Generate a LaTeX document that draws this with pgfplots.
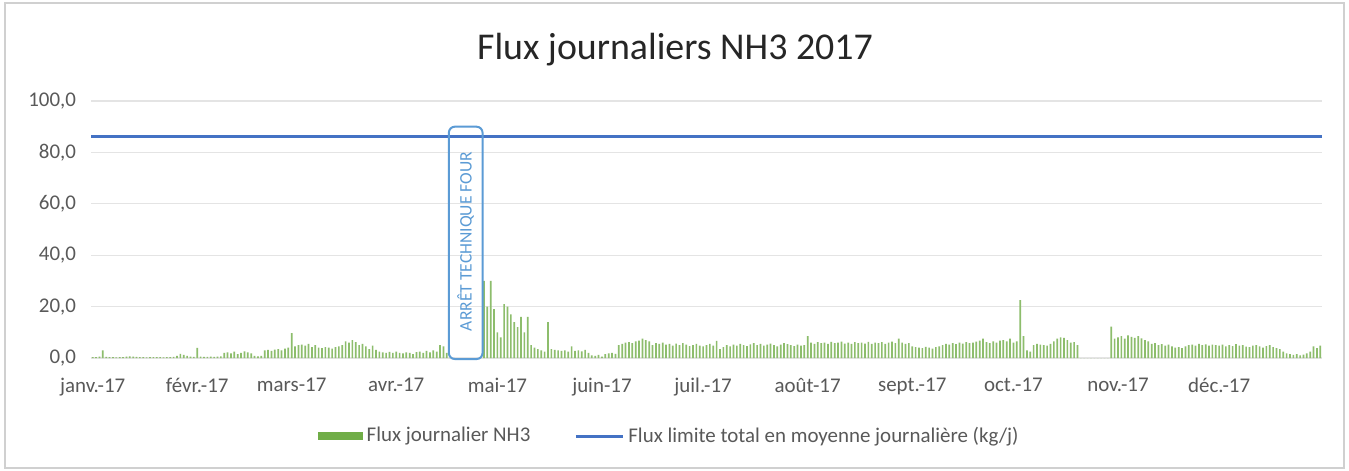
\documentclass[border=0pt]{standalone}
\usepackage{fontspec}
\setmainfont{Carlito}
\usepackage{pgfplots}
\usepackage{pgfplotstable}
\pgfplotsset{compat=1.18}
\definecolor{cbar}{HTML}{70AD47}
\definecolor{cline}{HTML}{4472C4}
\definecolor{cbox}{HTML}{5B9BD5}
\definecolor{ctxt}{HTML}{595959}
\definecolor{ctitle}{HTML}{262626}
\definecolor{cgrid}{HTML}{E4E4E4}
\definecolor{cborder}{HTML}{D0D0D0}

\pgfplotstableread[row sep=\\]{
v\\
0.3\\0.3\\0.5\\3.0\\0.4\\0.3\\0.3\\0.2\\0.3\\0.3\\0.5\\0.6\\0.5\\0.4\\0.3\\0.3\\0.2\\0.3\\0.3\\0.3\\0.3\\0.2\\0.3\\0.3\\0.4\\0.8\\1.6\\1.2\\0.8\\0.5\\0.4\\
3.9\\0.5\\0.4\\0.4\\0.5\\0.4\\0.5\\0.6\\2.0\\2.2\\1.8\\2.5\\1.5\\2.0\\2.6\\2.2\\1.8\\0.8\\0.6\\0.8\\3.0\\3.2\\2.8\\3.3\\3.5\\3.0\\3.6\\4.0\\
9.7\\4.5\\5.0\\5.2\\4.8\\5.5\\4.2\\5.0\\4.0\\3.8\\4.2\\4.0\\3.6\\4.2\\4.5\\5.0\\6.5\\6.0\\7.0\\6.2\\5.0\\5.5\\4.5\\3.5\\4.8\\3.2\\2.5\\2.2\\2.0\\2.4\\2.0\\
2.5\\2.0\\1.8\\2.2\\2.0\\1.5\\2.3\\2.5\\2.0\\2.8\\2.2\\3.0\\2.5\\5.0\\4.5\\2.0\\0\\0\\0\\0\\0\\0\\0\\0\\0\\0\\30\\20\\30\\19\\
10\\8\\21\\20\\17\\14\\12\\16\\10\\16\\5\\4\\3.5\\3\\2.5\\14\\3.5\\3.2\\3.0\\2.8\\3.0\\2.5\\4.5\\2.8\\3.0\\2.6\\3.2\\2.0\\1.0\\0.8\\1.2\\
0.5\\1.5\\1.8\\2.0\\1.6\\5.0\\5.5\\6.0\\6.2\\5.8\\6.5\\6.8\\7.5\\7.0\\6.5\\5.0\\5.8\\5.5\\6.0\\5.2\\5.5\\4.8\\5.6\\5.0\\5.8\\5.2\\4.6\\5.0\\5.5\\4.8\\
4.5\\5.0\\5.5\\4.8\\6.7\\3.5\\4.2\\5.0\\4.5\\5.2\\4.8\\5.5\\5.0\\4.6\\5.3\\5.8\\5.0\\5.5\\4.8\\5.2\\5.6\\5.0\\4.5\\5.2\\5.8\\5.4\\5.0\\4.6\\5.2\\4.8\\5.0\\
8.5\\6.0\\5.5\\6.2\\5.8\\6.0\\5.5\\6.3\\5.8\\6.0\\6.4\\5.6\\6.0\\5.5\\6.2\\5.8\\6.0\\5.6\\6.3\\5.5\\6.0\\5.8\\6.2\\5.5\\6.0\\6.4\\5.8\\7.5\\6.0\\5.5\\5.8\\
4.5\\4.2\\4.0\\3.8\\4.3\\4.0\\3.6\\4.2\\4.5\\5.0\\5.5\\5.2\\5.8\\5.4\\6.0\\5.6\\6.2\\5.8\\6.0\\6.4\\6.8\\7.5\\6.2\\5.8\\6.5\\6.0\\6.8\\7.0\\6.5\\7.5\\
6.0\\6.5\\22.5\\8.5\\3.0\\2.5\\5.0\\5.5\\5.2\\5.0\\4.8\\5.5\\6.5\\7.5\\8.0\\7.8\\7.0\\6.0\\6.2\\5.0\\0\\0\\0\\0\\0\\0\\0\\0\\0\\12.2\\7.5\\
8.0\\8.5\\7.5\\8.8\\8.2\\7.8\\8.5\\7.6\\7.0\\6.5\\5.5\\5.8\\5.0\\5.4\\4.8\\5.2\\4.5\\4.0\\4.2\\3.8\\4.5\\5.0\\5.2\\4.8\\5.5\\5.0\\5.3\\4.8\\5.2\\5.0\\
4.8\\5.2\\4.5\\5.0\\4.6\\5.4\\4.8\\5.0\\4.4\\4.2\\4.8\\5.0\\4.5\\4.0\\4.6\\5.0\\4.2\\3.8\\3.5\\2.5\\1.8\\1.5\\1.2\\1.5\\1.0\\1.3\\1.8\\2.5\\4.5\\3.8\\4.8\\
}\fluxdata

\begin{document}
\begin{tikzpicture}
\useasboundingbox (0,0) rectangle (674.5bp,235.5bp);
\fill[white] (0,0) rectangle (674.5bp,235.5bp);
\draw[cborder, line width=0.6bp] (2.5bp,1.5bp) rectangle (672bp,234bp);
\begin{axis}[
  at={(45.5bp,56.5bp)}, anchor=south west,
  scale only axis, width=615.5bp, height=128.5bp,
  xmin=-0.5, xmax=364.5, ymin=0, ymax=100,
  clip=false,
  axis line style={draw=none},
  tick style={draw=none},
  ymajorgrids, grid style={cgrid, line width=0.6bp},
  ytick={0,20,40,60,80,100},
  /pgf/number format/.cd, fixed, fixed zerofill, precision=1, use comma, assume math mode=true,
  /pgfplots/.cd,
  xtick={0,31,59,90,120,151,181,212,243,273,304,334},
  xticklabels={janv.-17,févr.-17,mars-17,avr.-17,mai-17,juin-17,juil.-17,août-17,sept.-17,oct.-17,nov.-17,déc.-17},
  tick label style={font=\fontsize{10.5}{12}\selectfont, text=ctxt},
  yticklabel style={xshift=-4bp},
  xticklabel style={yshift=-6.5bp},
  title={Flux journaliers NH3 2017},
  title style={at={(0.4744,1.155)}, anchor=center, font=\fontsize{19}{22}\selectfont, text=ctitle},
  legend style={at={(0.4705,-0.3035)}, anchor=center, draw=none, fill=none,
    font=\fontsize{10.5}{12}\selectfont, text=ctxt, legend columns=2,
    /tikz/every even column/.append style={column sep=20bp}},
]
\addplot[ybar, bar width=0.5, fill=cbar!80, draw=none,
  legend image code/.code={\fill[cbar] (0bp,-2bp) rectangle (22.5bp,2bp);}]
  table[x expr=\coordindex, y=v] {\fluxdata};
\addlegendentry{Flux journalier NH3}
\addplot[cline, line width=1.5bp, mark=none,
  legend image code/.code={\draw[cline, line width=1.5bp] (0bp,0bp) -- (23.5bp,0bp);}]
  coordinates {(-0.5,86) (364.5,86)};
\addlegendentry{Flux limite total en moyenne journalière (kg/j)}
\draw[cbox, line width=1bp, rounded corners=3bp] (axis cs:105.6,-0.4) rectangle (axis cs:115.6,90);
\node[rotate=90, text=cbox, font=\fontsize{8.8}{10}\selectfont] at (axis cs:110.6,45.3) {ARRÊT TECHNIQUE FOUR};
\end{axis}
\end{tikzpicture}
\end{document}
